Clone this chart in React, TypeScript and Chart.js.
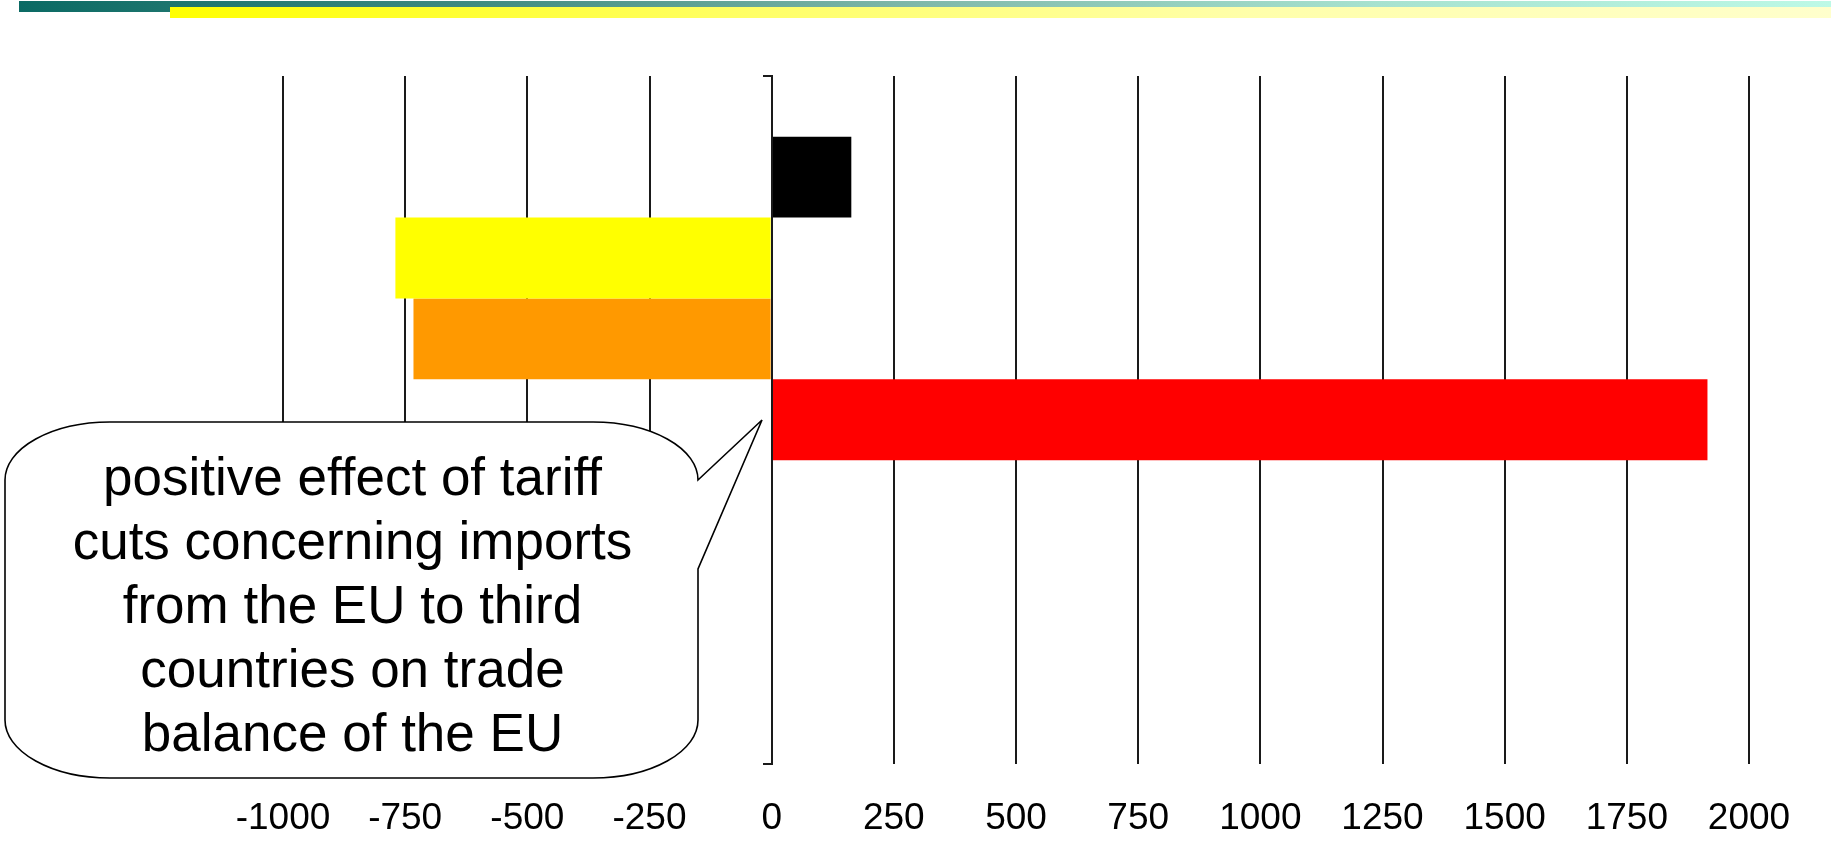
import React, { useEffect, useRef } from "react";
import { Chart, registerables } from "chart.js";

Chart.register(...registerables);

// One category, several grouped horizontal bars (change in trade balance)
const categories = ["EU"];
const seriesLabels = ["Series A", "Series B", "Series C", "Series D", "Series E", "Series F", "Series G"];
const seriesA = [163];
const seriesB = [-770];
const seriesC = [-733];
const seriesD = [1915];
const seriesE: (number | null)[] = [null];
const seriesF: (number | null)[] = [null];
const seriesG: (number | null)[] = [null];
const seriesColors = ["#000000", "#ffff00", "#ff9900", "#ff0000", "#808080", "#808080", "#808080"];

const xTickValues = [-1000, -750, -500, -250, 0, 250, 500, 750, 1000, 1250, 1500, 1750, 2000];

const calloutLines = [
  "positive effect of tariff",
  "cuts concerning imports",
  "from the EU to third",
  "countries on trade",
  "balance of the EU",
];

const W = 1831;
const H = 842;
// the canvas runs a little below the visible page so the axis labels sit low
const CANVAS_H = 882;
const FONT = "'Liberation Sans', Arial, Helvetica, sans-serif";

function Callout() {
  const L = 5, T = 422, R = 698, B = 778, rx = 105, ry = 58;
  const tipX = 762, tipY = 420, wedgeBottom = 569;
  const d = [
    `M ${L + rx} ${T}`,
    `H ${R - rx}`,
    `A ${rx} ${ry} 0 0 1 ${R} ${T + ry}`,
    `L ${tipX} ${tipY}`,
    `L ${R} ${wedgeBottom}`,
    `V ${B - ry}`,
    `A ${rx} ${ry} 0 0 1 ${R - rx} ${B}`,
    `H ${L + rx}`,
    `A ${rx} ${ry} 0 0 1 ${L} ${B - ry}`,
    `V ${T + ry}`,
    `A ${rx} ${ry} 0 0 1 ${L + rx} ${T}`,
    "Z",
  ].join(" ");
  const cx = (L + R) / 2 + 1;
  const firstBaseline = 495;
  const lineStep = 64;
  return (
    <svg
      width={W}
      height={H}
      style={{ position: "absolute", left: 0, top: 0, pointerEvents: "none" }}
    >
      <path d={d} fill="#ffffff" stroke="#000000" strokeWidth={1.6} strokeLinejoin="miter" />
      {calloutLines.map((line, i) => (
        <text
          key={i}
          x={cx}
          y={firstBaseline + i * lineStep}
          textAnchor="middle"
          fontFamily={FONT}
          fontSize={53}
          fill="#000000"
        >
          {line}
        </text>
      ))}
    </svg>
  );
}

export default function App() {
  const canvasRef = useRef<HTMLCanvasElement | null>(null);

  useEffect(() => {
    if (!canvasRef.current) return;
    const allSeries = [seriesA, seriesB, seriesC, seriesD, seriesE, seriesF, seriesG];
    const chart = new Chart(canvasRef.current, {
      type: "bar",
      data: {
        labels: categories,
        datasets: allSeries.map((values, i) => ({
          label: seriesLabels[i],
          data: values,
          backgroundColor: seriesColors[i],
          borderWidth: 0,
          categoryPercentage: 0.8234,
          barPercentage: 1,
        })),
      },
      options: {
        animation: false,
        responsive: false,
        maintainAspectRatio: false,
        indexAxis: "y",
        layout: { padding: { left: 283, right: 82, top: 76, bottom: 8 } },
        plugins: {
          legend: { display: false },
          tooltip: { enabled: false },
        },
        scales: {
          x: {
            type: "linear",
            min: -1000,
            max: 2000,
            afterBuildTicks: (scale: any) => {
              scale.ticks = xTickValues.map((v) => ({ value: v }));
            },
            grid: { color: "#1a1a1a", lineWidth: 2, drawTicks: false },
            border: { display: false },
            ticks: {
              padding: 33,
              color: "#000000",
              font: { family: FONT, size: 37, lineHeight: 1.2 },
              maxRotation: 0,
              autoSkip: false,
              callback: (value: any) => String(value),
            },
          },
          y: {
            type: "category",
            position: { x: 0 } as any,
            offset: true,
            grid: {
              offset: true,
              drawOnChartArea: false,
              drawTicks: true,
              tickLength: 8,
              color: "#1a1a1a",
              lineWidth: 2,
            },
            border: { display: true, color: "#1a1a1a", width: 2, z: 1 },
            ticks: { display: false },
          },
        },
      } as any,
    });
    return () => chart.destroy();
  }, []);

  return (
    <div style={{ position: "fixed", left: 0, top: 0, width: W, height: H, background: "#ffffff", overflow: "hidden" }}>
      <div
        style={{
          position: "absolute",
          left: 19,
          top: 1,
          width: W - 19,
          height: 11,
          background: "linear-gradient(to right, #0b6a64 0%, #3f8a80 25%, #80b9aa 50%, #a7e2cf 75%, #bdf9e6 100%)",
        }}
      />
      <div
        style={{
          position: "absolute",
          left: 170,
          top: 7,
          width: W - 170,
          height: 11,
          background: "linear-gradient(to right, #ffff00 0%, #ffff66 35%, #ffffaa 65%, #ffffcc 100%)",
        }}
      />
      <canvas
        ref={canvasRef}
        width={W}
        height={CANVAS_H}
        style={{ position: "absolute", left: 0, top: 0, width: W, height: CANVAS_H }}
      />
      <Callout />
    </div>
  );
}
